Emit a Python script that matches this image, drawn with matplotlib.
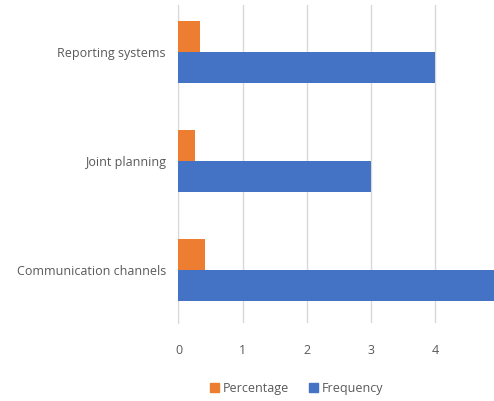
import numpy as np
import matplotlib
matplotlib.use('Agg')
import matplotlib.pyplot as plt
from matplotlib.patches import Patch

categories = ['Communication channels', 'Joint planning', 'Reporting systems']
frequency = [5, 3, 4]
percentage = [0.42, 0.25, 0.33]
xticks = [0, 1, 2, 3, 4]

plt.rcParams['font.family'] = ['Open Sans', 'DejaVu Sans']
grey = '#595959'
orange = '#ED7D31'
blue = '#4472C4'

fig = plt.figure(figsize=(4.94, 4.01), dpi=100)
ax = fig.add_axes([0.3613, 0.1945, 0.6387 + 0.01, 0.793])

y = np.arange(len(categories))
h = 0.284
ax.barh(y + h / 2, percentage, height=h, color=orange, label='Percentage', zorder=3)
ax.barh(y - h / 2, frequency, height=h, color=blue, label='Frequency', zorder=3)

ax.set_xlim(0, 4.99)
ax.set_ylim(-0.486, 2.43)
ax.set_xticks(xticks)
ax.set_yticks(y)
ax.set_yticklabels(categories)
ax.grid(axis='x', color='#D9D9D9', linewidth=1, zorder=0)
for s in ['top', 'right', 'bottom']:
    ax.spines[s].set_visible(False)
ax.spines['left'].set_color('#D9D9D9')
ax.tick_params(length=0, colors=grey, labelsize=9)
ax.tick_params(axis='x', pad=15)
ax.tick_params(axis='y', pad=9)

handles = [Patch(color=orange, label='Percentage'), Patch(color=blue, label='Frequency')]
fig.legend(handles=handles, loc='center', bbox_to_anchor=(0.60, 0.032), ncol=2,
           frameon=False, fontsize=9, labelcolor=grey, handlelength=0.7, handleheight=0.7,
           handletextpad=0.3, columnspacing=1.6)

fig.savefig('out.png', dpi=100)
